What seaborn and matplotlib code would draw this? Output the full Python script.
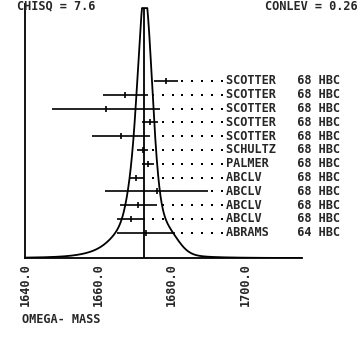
import numpy as np
import pandas as pd
import matplotlib
matplotlib.use("Agg")
import matplotlib.pyplot as plt
import seaborn as sns

# Omega- mass measurements (MeV) with their references
authors = ["SCOTTER", "SCOTTER", "SCOTTER", "SCOTTER", "SCOTTER", "SCHULTZ",
           "PALMER", "ABCLV", "ABCLV", "ABCLV", "ABCLV", "ABRAMS"]
years = ["68", "68", "68", "68", "68", "68", "68", "68", "68", "68", "68", "64"]
labs = ["HBC", "HBC", "HBC", "HBC", "HBC", "HBC", "HBC", "HBC", "HBC", "HBC", "HBC", "HBC"]
mass = [1678.45, 1667.3, 1662.1, 1674.1, 1666.2, 1672.1,
        1673.5, 1670.3, 1675.9, 1670.9, 1668.9, 1672.9]
error = [3.2, 6.1, 14.8, 2.1, 8.0, 1.5,
         1.6, 2.0, 14.0, 5.0, 3.9, 7.9]
chisq_text = "7.6"
conlev_text = "0.26"
tick_values = [1640.0, 1660.0, 1680.0, 1700.0]
axis_title = "OMEGA- MASS"

sns.set_style("white")
plt.rcParams["font.family"] = ["DejaVu Sans Mono"]
plt.rcParams["font.weight"] = "bold"
FS = 8.6

df = pd.DataFrame({"author": authors, "year": years, "lab": labs,
                   "mass": mass, "error": error})
df["row"] = 0.697 - 0.0543 * np.arange(len(df))

# weighted average and ideogram (each gaussian has area proportional to 1/sigma)
w = 1.0 / df["error"] ** 2
mean = float((w * df["mass"]).sum() / w.sum())
xmin, xmax = 1640.0, 1715.5
grid = np.linspace(xmin, xmax, 3000)
ideo = np.zeros_like(grid)
for m, s in zip(df["mass"], df["error"]):
    ideo += (1.0 / s ** 2) * np.exp(-0.5 * ((grid - m) / s) ** 2)
ideo = ideo / ideo.max() * 1.04
# the curve runs off the frame at the top and is cut flat there
frame_top = 0.984
curve = pd.DataFrame({"m": grid, "h": np.minimum(ideo, frame_top)})

fig = plt.figure(figsize=(3.6, 3.39), dpi=100)
ax = fig.add_axes([25 / 360, 1 - 258 / 339, 277 / 360, 254 / 339])

sns.lineplot(data=curve, x="m", y="h", color="black", lw=1.3, ax=ax)

# weighted average
ax.vlines(mean, 0, frame_top, color="black", lw=1.3)

# measurements
ax.hlines(df["row"], df["mass"] - df["error"], df["mass"] + df["error"],
          color="black", lw=1.2)
sns.scatterplot(data=df, x="mass", y="row", marker="|", s=22, linewidth=1.2,
                color="black", ax=ax, legend=False, clip_on=False)

# leader dots towards the reference labels
dot_start, dot_step, n_dots = 1674.9, 2.67, 8
dots = []
for _, r in df.iterrows():
    for k in range(n_dots):
        p = dot_start + dot_step * k
        if p > r["mass"] + r["error"] + 1.0:
            dots.append((p, r["row"]))
dots = pd.DataFrame(dots, columns=["p", "row"])
sns.scatterplot(data=dots, x="p", y="row", marker="s", s=3.2, linewidth=0,
                color="black", ax=ax, legend=False, clip_on=False)

label_x = 1694.75
for _, r in df.iterrows():
    ax.text(label_x, r["row"], f"{r['author']:<10}{r['year']} {r['lab']}",
            fontsize=FS, fontweight="bold", ha="left", va="center",
            clip_on=False)

ax.set_xlim(xmin, xmax)
ax.set_ylim(0, 1)
ax.set_yticks([])
ax.set_ylabel("")
ax.set_xticks(tick_values)
ax.set_xticklabels([f"{v:.1f}" for v in tick_values], rotation=90,
                   fontsize=FS, fontweight="bold")
ax.tick_params(axis="x", length=0, pad=4)
ax.set_xlabel(axis_title, fontsize=FS, fontweight="bold", loc="left")
ax.xaxis.set_label_coords(-0.011, -0.215)
ax.xaxis.label.set_va("top")

for side in ["top", "right"]:
    ax.spines[side].set_visible(False)
for side in ["left", "bottom"]:
    ax.spines[side].set_color("black")
    ax.spines[side].set_linewidth(1.3)

fig.text(17 / 360, 1 - 6 / 339, f"CHISQ = {chisq_text}", fontsize=FS,
         fontweight="bold", ha="left", va="center")
fig.text(358 / 360, 1 - 6 / 339, f"CONLEV = {conlev_text}", fontsize=FS,
         fontweight="bold", ha="right", va="center")

fig.savefig("out.png", dpi=100)
